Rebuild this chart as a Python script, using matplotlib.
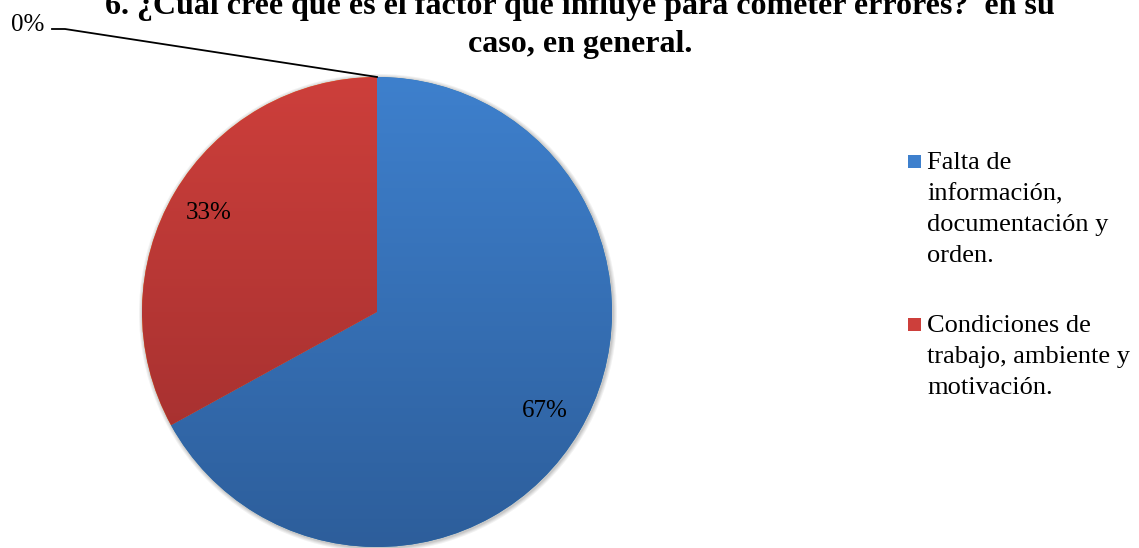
import numpy as np
import matplotlib
matplotlib.use("Agg")
import matplotlib.pyplot as plt
from matplotlib.colors import LinearSegmentedColormap
from matplotlib.patches import Circle, Rectangle

plt.rcParams["font.family"] = ["Liberation Serif", "DejaVu Serif"]

# datos de la pregunta 6
titulo = "6. ¿Cuál cree que es el factor que influye para cometer errores?  en su\ncaso, en general."
categorias = [
    "Falta de\ninformación,\ndocumentación y\norden.",
    "Condiciones de\ntrabajo, ambiente y\nmotivación.",
    "Otro",
]
porcentajes = [67, 33, 0]
en_leyenda = [True, True, False]

# degradados (arriba -> abajo) de cada sector
degradados = [("#3e80cd", "#2d5e9b"), ("#cd3f3b", "#9c2d2d"), ("#9bbb59", "#7a9a3c")]

W, H = 1139, 548
fig = plt.figure(figsize=(W / 100, H / 100), dpi=100)
ax = fig.add_axes([0, 0, 1, 1])

cx, cy, r = 377, 236, 235

# sombra suave bajo el círculo
for i, a in enumerate([0.05, 0.05, 0.06, 0.07]):
    ax.add_patch(Circle((cx + 1, cy - 1), r + 4 - i, color="black", alpha=a, lw=0, zorder=0))

wedges, _, autotexts = ax.pie(
    porcentajes,
    center=(cx, cy),
    radius=r,
    startangle=90,
    counterclock=False,
    autopct=lambda p: f"{p:.0f}%" if p > 0 else "",
    pctdistance=0.83,
    textprops=dict(fontsize=18, color="black"),
    wedgeprops=dict(linewidth=0),
    frame=True,
)
ax.set_xlim(0, W)
ax.set_ylim(0, H)
ax.set_aspect("equal")
ax.axis("off")

grad = np.linspace(1, 0, 256).reshape(-1, 1)
for w, (c_top, c_bot) in zip(wedges, degradados):
    cmap = LinearSegmentedColormap.from_list("g", [c_bot, c_top])
    im = ax.imshow(grad, cmap=cmap, extent=(cx - r, cx + r, cy - r, cy + r),
                   origin="upper", aspect="auto", zorder=1.5, vmin=0, vmax=1)
    im.set_clip_path(w)
for t in autotexts:
    t.set_zorder(3)

# etiqueta del sector de 0% con línea guía
for w, p in zip(wedges, porcentajes):
    if p == 0:
        ang = np.deg2rad(w.theta1)
        px, py = cx + r * np.cos(ang), cy + r * np.sin(ang)
        ax.plot([52, 65, px], [H - 29, H - 29, py], color="black", lw=1.3, zorder=4)
        ax.text(44, H - 31, f"{p:.0f}%", fontsize=18, ha="right", va="baseline")

# título en dos líneas
for linea, yb in zip(titulo.split("\n"), [14, 52]):
    fig.text(580 / W, 1 - yb / H, linea, fontsize=23, fontweight="bold",
             ha="center", va="baseline")

# leyenda
y_base = [169, 332]
visibles = [i for i in range(len(categorias)) if en_leyenda[i]]
for k, i in enumerate(visibles):
    yb = y_base[k]
    ax.add_patch(Rectangle((908, H - yb + 1), 13, 13, color=degradados[i][0], lw=0))
    lineas = categorias[i].split("\n")
    for j, linea in enumerate(lineas):
        ax.text(927, H - yb - 31 * j, linea, fontsize=19, ha="left", va="baseline")

fig.savefig("out.png", dpi=100)
